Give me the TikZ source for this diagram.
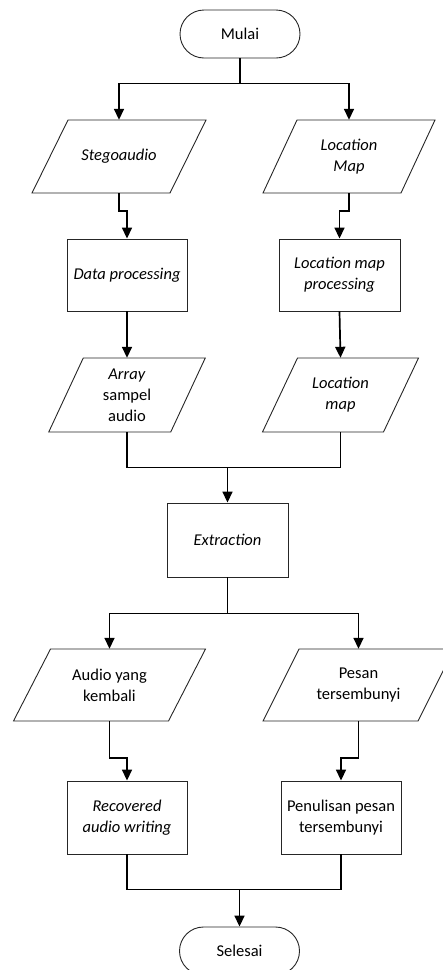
\documentclass[tikz,border=0pt]{standalone}
\usepackage{fontspec}
\setmainfont{Carlito}
\usetikzlibrary{arrows.meta,calc}
\tikzset{
  boxline/.style={draw=black!85,line width=0.9pt},
  procbox/.style={boxline,rectangle,align=center,minimum width=120pt,inner sep=2pt},
  termbox/.style={boxline,rectangle,rounded corners=24pt,minimum width=120pt,minimum height=48pt,align=center},
  paratext/.style={rectangle,draw=none,align=center,inner sep=0pt},
  line/.style={draw=black,line width=1.7pt},
  conn/.style={line,-{Triangle[length=11pt,width=10pt]}},
}
\newcommand\flowpara[7]{%
  \node[paratext,minimum width=#4pt,minimum height=#6pt] (#1) at (#2,#3) {#7};
  \draw[boxline] (#2-#4/2+#5/2,#3-#6/2) -- ++(#4,0) -- ++(-#5,#6) -- ++(-#4,0) -- cycle;
}
\begin{document}
\begin{tikzpicture}[x=1pt,y=-1pt,font=\fontsize{16.5}{21}\selectfont]
\useasboundingbox (0,0) rectangle (443,970);
\clip (0,0) rectangle (443,970);
\node[termbox] (mulai) at (240,34) {Mulai};
\flowpara{stego}{119}{156.5}{138}{36}{73}{\textit{Stegoaudio}}
\flowpara{locmap}{349}{156.5}{138}{34}{73}{\textit{Location}\\\textit{Map}}
\node[procbox,minimum height=72pt] (dp) at (127,275) {\textit{Data processing}};
\node[procbox,minimum height=72pt,minimum width=121pt] (lmp) at (339.5,275) {\textit{Location map}\\\textit{processing}};
\flowpara{arr}{127}{395}{122}{34.5}{74}{\textit{Array}\\sampel\\audio}
\flowpara{lm}{340.5}{395}{121}{35}{74}{\textit{Location}\\\textit{map}}
\node[procbox,minimum height=74pt,minimum width=121pt] (ext) at (227.5,540) {\textit{Extraction}};
\flowpara{audio}{109.5}{685}{155}{37}{72}{Audio yang\\kembali}
\flowpara{pesan}{358.5}{685}{155}{36}{72}{Pesan\\tersembunyi}
\node[procbox,minimum height=73pt] (rec) at (127,817.5) {\textit{Recovered}\\\textit{audio writing}};
\node[procbox,minimum height=73pt] (pen) at (341,817.5) {Penulisan pesan\\tersembunyi};
\node[termbox] (selesai) at (239.5,951) {Selesai};
% connectors
\draw[conn] (mulai.south) -- ++(0,25) -| (stego.north);
\draw[conn] (mulai.south) -- ++(0,25) -| (locmap.north);
\draw[conn] (stego.south) -- ++(0,18) -| (dp.north);
\draw[conn] (locmap.south) -- ++(0,18) -| (lmp.north);
\draw[conn] (dp.south) -- (arr.north);
\draw[conn] (lmp.south) -- (lm.north);
\coordinate (j1) at ($(ext.north)+(0,-35)$);
\draw[line] (arr.south) |- (j1) -| (lm.south);
\draw[conn] (j1) -- (ext.north);
\draw[conn] (ext.south) -- ++(0,36) -| (audio.north);
\draw[conn] (ext.south) -- ++(0,36) -| (pesan.north);
\draw[conn] (audio.south) -- ++(0,37) -| (rec.north);
\draw[conn] (pesan.south) -- ++(0,37) -| (pen.north);
\coordinate (j2) at ($(selesai.north)+(0,-37)$);
\draw[line] (rec.south) |- (j2) -| (pen.south);
\draw[conn] (j2) -- (selesai.north);
\end{tikzpicture}
\end{document}
